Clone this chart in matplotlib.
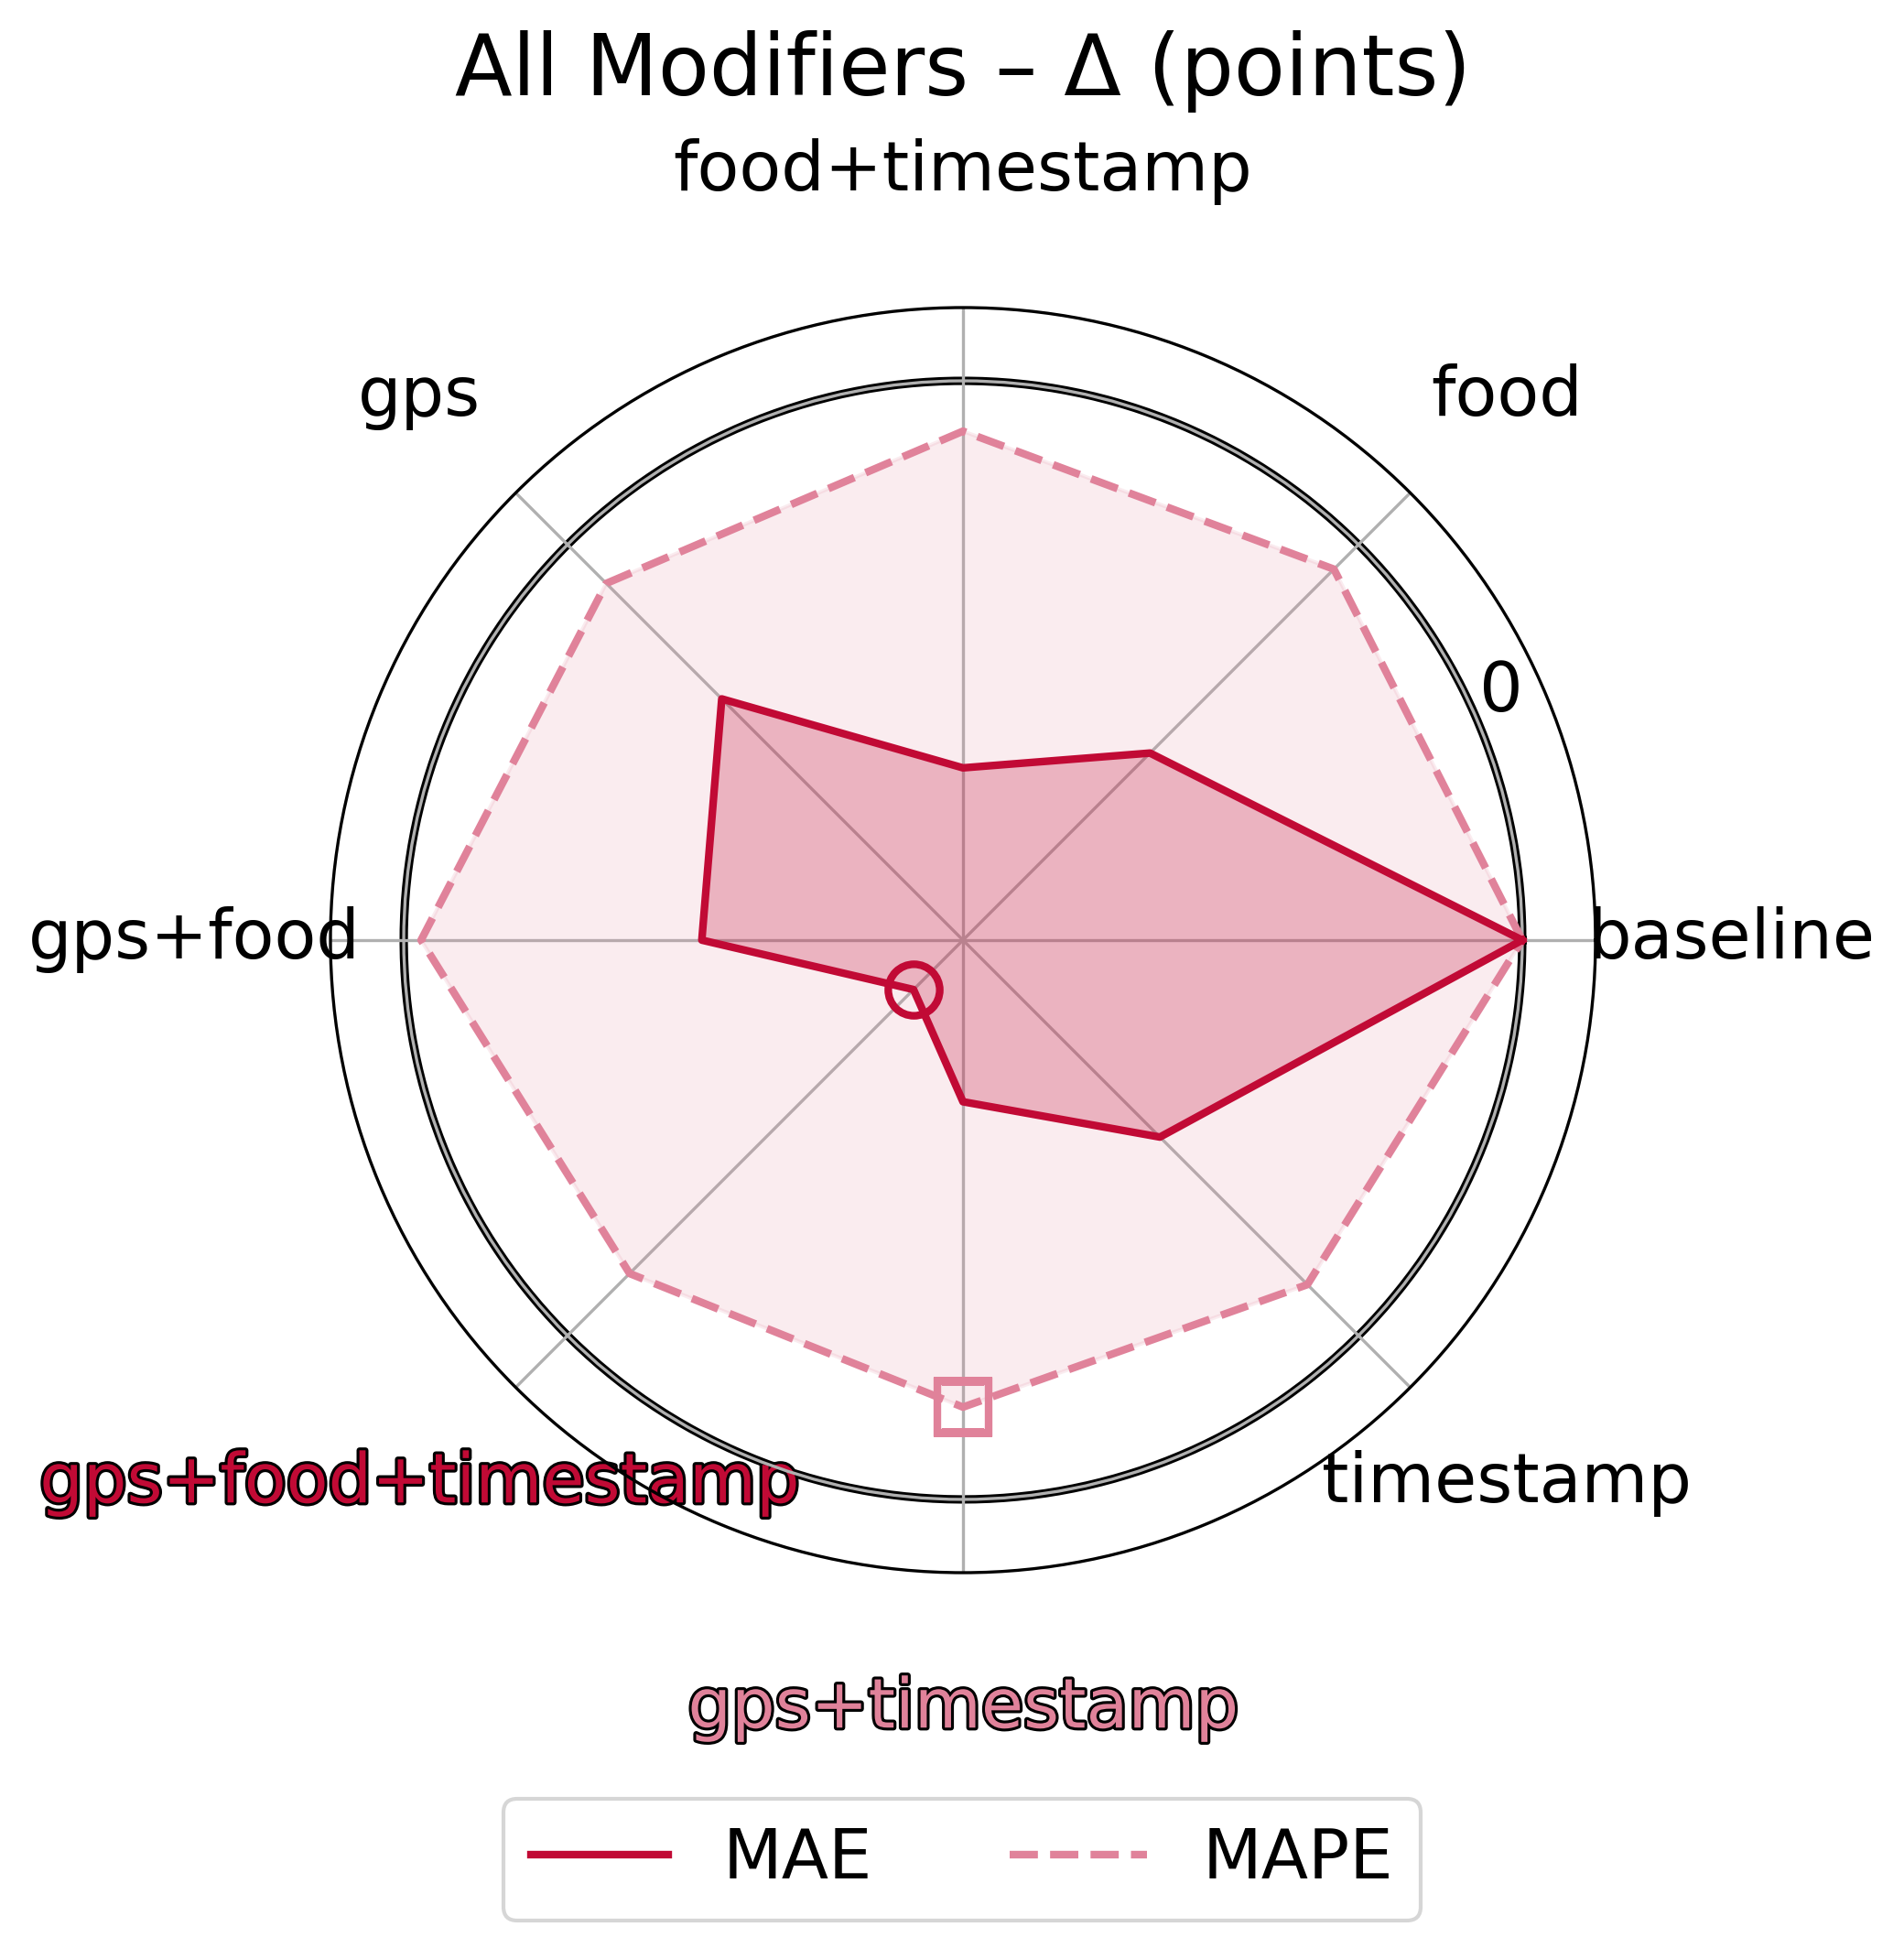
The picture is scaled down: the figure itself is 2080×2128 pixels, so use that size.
import numpy as np
import matplotlib
matplotlib.use('Agg')
import matplotlib.pyplot as plt
import matplotlib.patheffects as pe

# ---------------- data ----------------
categories = ['baseline', 'food', 'food+timestamp', 'gps', 'gps+food',
              'gps+food+timestamp', 'gps+timestamp', 'timestamp']
mae_delta = [0.0, -5.27, -6.92, -3.90, -5.33, -8.75, -7.11, -5.02]
mape_delta = [0.0, -0.62, -0.90, -0.98, -0.31, -1.57, -1.65, -1.29]
series_names = ['MAE', 'MAPE']
r_ticks = [0]
r_tick_labels = ['0']
r_limits = (-10.0, 1.31)
title = 'All Modifiers – Δ (points)'

MAE_COLOR = '#C10A35'
MAPE_COLOR = '#E0829A'

# ---------------- figure ----------------
fig = plt.figure(figsize=(2080 / 300, 2128 / 300), dpi=300)
ax = fig.add_axes([0.17356, 0.19267, 0.66442, 0.64944], projection='polar')
ax.set_axisbelow(True)

n = len(categories)
angles = np.linspace(0, 2 * np.pi, n, endpoint=False)
ang_c = np.concatenate([angles, angles[:1]])


def close(v):
    v = np.asarray(v, dtype=float)
    return np.concatenate([v, v[:1]])


mae_c = close(mae_delta)
mape_c = close(mape_delta)

# zero reference ring (black under gray gridline)
full_circle = np.linspace(0, 2 * np.pi, 500)
ax.plot(full_circle, np.zeros_like(full_circle), color='black', lw=2.2, zorder=0.4)

# MAPE
ax.fill(ang_c, mape_c, color=MAPE_COLOR, alpha=0.15, zorder=1)
l_mape, = ax.plot(ang_c, mape_c, color=MAPE_COLOR, lw=2, ls='--', label=series_names[1], zorder=2)
# MAE
ax.fill(ang_c, mae_c, color=MAE_COLOR, alpha=0.25, zorder=1)
l_mae, = ax.plot(ang_c, mae_c, color=MAE_COLOR, lw=2, ls='-', label=series_names[0], zorder=2)

# best-point markers
i_mae = int(np.argmin(mae_delta))
i_mape = int(np.argmin(mape_delta))
ax.plot([angles[i_mae]], [mae_delta[i_mae]], marker='o', ms=13.5, mfc='none',
        mec=MAE_COLOR, mew=2, ls='none', zorder=3)
ax.plot([angles[i_mape]], [mape_delta[i_mape]], marker='s', ms=13.5, mfc='none',
        mec=MAPE_COLOR, mew=2, ls='none', zorder=3)

ax.set_ylim(*r_limits)
ax.set_yticks(r_ticks)
ax.set_yticklabels(r_tick_labels, fontsize=18)
ax.set_xticks(angles)
ax.set_xticklabels(categories, fontsize=18)
ax.tick_params(axis='x', pad=25.2)
ax.xaxis.grid(True, color='#b0b0b0', lw=0.8)
ax.yaxis.grid(True, color='#b0b0b0', lw=0.8)
ax.spines['polar'].set_linewidth(0.8)

labels = ax.get_xticklabels()
labels[i_mae].set_color(MAE_COLOR)
labels[i_mae].set_path_effects([pe.withStroke(linewidth=1.5, foreground='black')])
labels[i_mape].set_color(MAPE_COLOR)
labels[i_mape].set_path_effects([pe.withStroke(linewidth=1.5, foreground='black')])

fig.text(1052 / 2080, 1 - 104 / 2128, title, ha='center', va='baseline', fontsize=22)

fig.legend(handles=[l_mae, l_mape], labels=series_names, loc='upper center',
           bbox_to_anchor=(1051 / 2080, 1 - 1965 / 2128), ncol=2, fontsize=18,
           borderaxespad=0, frameon=True)

fig.savefig('out.png', dpi=300)
